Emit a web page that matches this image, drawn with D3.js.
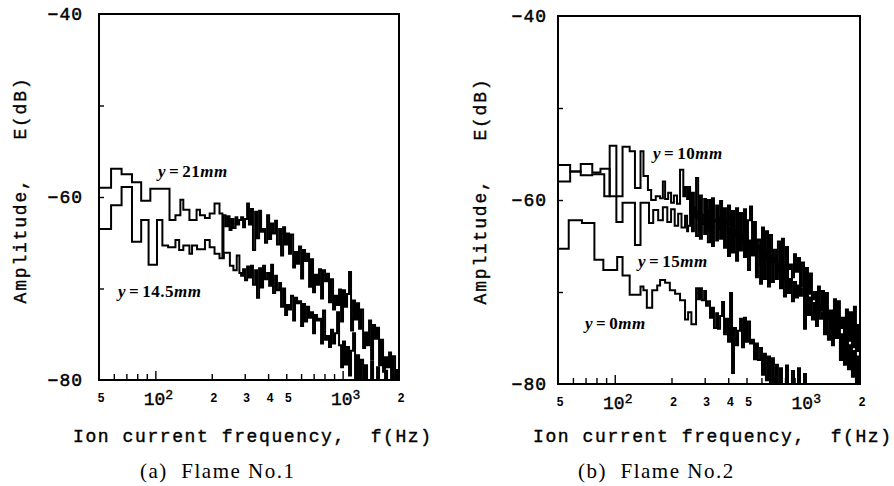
<!DOCTYPE html>
<html>
<head>
<meta charset="utf-8">
<script src="https://cdn.jsdelivr.net/npm/d3@7"></script>
<style>
  html, body { margin: 0; padding: 0; background: #fff; }
  svg { display: block; }
</style>
</head>
<body>
<svg id="chart" width="894" height="486"></svg>
<script>
// ---------------- data ----------------
// Frequency axis (Hz) and amplitude axis (dB)
const freqDomain = [50, 2000];
const ampDomain = [-80, -40];
const yLabelTicks = [-40, -60, -80];
const yMinorTicks = [-50, -60, -70];
const xTickValues = [60, 70, 80, 90, 100, 200, 300, 400, 500, 600, 700, 800, 900, 1000];
const xDigitLabels = [[50, "5"], [200, "2"], [300, "3"], [400, "4"], [500, "5"], [2000, "2"]];
const xPowerLabels = [[100, "2"], [1000, "3"]];

// Flame No.1 — shared frequency bins of the high-frequency part
const hiFreqA = [287, 294, 301, 309, 316, 324, 332, 341, 349, 358,
  367, 376, 385, 395, 405, 415, 425, 436, 446, 458,
  469, 481, 493, 505, 517, 530, 544, 557, 571, 585,
  600, 615, 630, 646, 662, 678, 695, 712, 730, 748,
  767, 786, 806, 826, 846, 867, 889, 911, 934, 957,
  981, 1005, 1030, 1056, 1082, 1109, 1137, 1165, 1194, 1224,
  1254, 1286, 1318, 1350, 1384, 1419, 1454, 1490, 1527, 1565,
  1604, 1644, 1685, 1727, 1770, 1814, 1859, 1906, 1953];

// y = 21 mm
const lowFreqA21 = [50, 58, 66, 75, 84, 94, 119, 128, 136, 141, 152, 166, 173, 184, 195, 207, 220, 228, 231, 237, 243, 249, 255, 261, 268, 274, 280];
const lowAmpA21 = [-59.0, -56.9, -57.5, -58.4, -60.4, -59.1, -62.5, -62.0, -60.3, -61.4, -62.5, -61.4, -62.0, -62.3, -61.8, -60.7, -61.8, -66.6, -62.0, -63.2, -62.1, -63.6, -62.4, -63.4, -62.2, -63.0, -62.5];
const hiAmpA21 = [-62.2, -63.3, -62.4, -60.7, -63.0, -61.3, -65.8, -61.6, -64.5, -61.5,
  -63.8, -63.5, -65.0, -62.0, -64.6, -62.9, -64.0, -62.6, -65.2, -63.5,
  -66.4, -63.3, -65.2, -64.0, -66.2, -64.1, -67.7, -66.0, -67.3, -65.4,
  -68.9, -65.8, -67.0, -66.2, -69.8, -66.8, -70.4, -68.5, -69.6, -67.9,
  -71.1, -68.0, -69.2, -68.4, -71.5, -69.0, -72.3, -70.8, -71.8, -70.1,
  -73.6, -70.2, -72.0, -70.6, -68.2, -74.6, -71.3, -73.4, -71.6, -74.4,
  -72.3, -76.5, -74.8, -76.2, -73.5, -77.8, -74.0, -75.5, -74.3, -78.4,
  -75.6, -79.1, -77.5, -78.6, -77.0, -79.9, -77.4, -80.0, -78.8];

// y = 14.5 mm
const lowFreqA145 = [50, 58, 66, 75, 84, 92, 102, 109, 117, 128, 134, 141, 152, 157, 167, 184, 195, 207, 220, 232, 250, 261, 272, 281];
const lowAmpA145 = [-63.5, -60.9, -58.9, -64.9, -62.5, -67.4, -62.5, -65.3, -65.5, -64.7, -65.8, -65.3, -66.2, -65.3, -65.7, -64.7, -65.5, -66.2, -66.7, -66.1, -67.5, -68.0, -66.4, -68.3];
const hiAmpA145 = [-68.6, -67.9, -69.1, -67.6, -68.8, -67.5, -69.6, -68.0, -71.0, -67.8,
  -69.9, -67.5, -69.0, -68.3, -69.7, -67.4, -70.5, -68.6, -70.2, -69.4,
  -72.0, -70.0, -72.9, -71.8, -72.3, -70.8, -73.5, -71.0, -71.6, -71.4,
  -74.1, -71.7, -73.6, -72.0, -73.2, -72.6, -74.9, -72.9, -73.5, -73.3,
  -76.0, -72.4, -75.6, -75.2, -76.4, -74.5, -76.0, -74.9, -72.6, -76.2,
  -78.6, -75.8, -78.3, -76.4, -79.5, -76.8, -74.9, -80.0, -77.3, -80.0,
  -77.8, -80.0, -78.4, -80.0, -80.0, -78.0, -80.0, -80.0, -78.6, -80.0,
  -80.0, -80.0, -79.0, -80.0, -80.0, -80.0, -80.0, -80.0, -80.0];

// Flame No.2 — shared frequency bins of the high-frequency part
const hiFreqB = [245, 251, 257, 263, 270, 277, 283, 290, 298, 305,
  312, 320, 328, 336, 345, 353, 362, 371, 380, 389,
  399, 409, 419, 429, 440, 451, 462, 473, 485, 497,
  509, 522, 535, 548, 561, 575, 590, 604, 619, 634,
  650, 666, 683, 699, 717, 734, 753, 771, 790, 810,
  830, 850, 871, 893, 915, 938, 961, 984, 1009, 1034,
  1059, 1085, 1112, 1140, 1168, 1197, 1226, 1257, 1288, 1320,
  1352, 1386, 1420, 1455, 1491, 1528, 1565, 1604, 1644, 1684,
  1726, 1769, 1812, 1857, 1903, 1950, 1998];

// y = 10 mm
const lowFreqB10 = [50, 58, 66, 76, 84, 94, 110, 120, 128, 137, 142, 150, 156, 165, 174, 180, 185, 192, 199, 206, 214, 222, 231, 236, 242];
const lowAmpB10 = [-56.2, -56.9, -56.1, -57.0, -56.6, -59.6, -54.2, -54.7, -58.7, -54.7, -57.4, -58.9, -60.0, -59.6, -59.8, -58.0, -59.9, -59.2, -60.3, -59.5, -60.4, -56.7, -59.6, -58.6, -59.9];
const hiAmpB10 = [-58.6, -61.5, -59.2, -61.9, -57.6, -62.0, -59.5, -62.6, -59.9, -63.3,
  -60.0, -62.8, -59.8, -62.2, -60.6, -63.2, -60.1, -64.0, -60.9, -62.6,
  -60.6, -64.5, -61.2, -64.0, -60.9, -63.6, -61.4, -64.6, -61.0, -65.4,
  -62.2, -60.7, -66.0, -62.4, -65.5, -64.3, -67.0, -63.0, -66.4, -63.4,
  -67.5, -63.8, -66.8, -65.4, -68.0, -64.5, -67.6, -64.2, -68.7, -65.1,
  -67.5, -67.0, -68.4, -65.9, -67.8, -66.3, -69.4, -66.8, -74.0, -67.4,
  -70.2, -68.0, -70.8, -70.0, -71.6, -69.4, -72.0, -69.9, -72.6, -70.1,
  -73.0, -72.0, -73.3, -70.8, -74.1, -71.0, -73.9, -72.8, -75.0, -71.9,
  -75.3, -72.2, -76.0, -71.6, -76.4, -73.6, -77.0];

// y = 15 mm
const lowFreqB15 = [50, 58, 66, 76, 88, 94, 102, 110, 128, 137, 152, 160, 170, 180, 190, 199, 208, 217, 226, 236, 242];
const lowAmpB15 = [-58.0, -56.9, -57.3, -57.2, -59.6, -54.1, -62.4, -60.3, -64.9, -60.3, -62.5, -61.1, -62.2, -60.8, -62.4, -61.0, -62.8, -61.5, -63.0, -61.7, -63.4];
const hiAmpB15 = [-62.8, -60.2, -63.4, -60.8, -63.9, -61.2, -64.2, -61.6, -63.7, -61.1,
  -64.6, -62.0, -65.0, -62.3, -64.4, -61.9, -64.2, -62.6, -65.2, -62.2,
  -66.1, -63.1, -65.7, -63.3, -66.6, -63.2, -65.5, -63.8, -66.2, -64.1,
  -67.6, -64.4, -66.0, -64.8, -68.4, -65.0, -69.1, -65.6, -68.6, -65.5,
  -69.4, -66.1, -68.9, -66.3, -68.6, -66.7, -69.6, -67.0, -70.5, -67.5,
  -70.1, -68.6, -71.0, -68.9, -70.6, -69.3, -70.4, -69.6, -72.0, -70.1,
  -72.5, -70.6, -73.0, -71.2, -73.7, -71.5, -72.9, -72.2, -74.6, -72.4,
  -75.2, -73.1, -75.8, -73.4, -75.0, -74.0, -77.4, -74.6, -77.9, -75.2,
  -78.4, -75.8, -79.2, -76.4, -80.0, -77.0, -80.0];

// y = 0 mm (high part uses bins 270 … 1034 Hz of hiFreqB)
const lowFreqB0 = [50, 57, 67, 78, 87, 103, 110, 120, 137, 142, 148, 158, 168, 174, 185, 196, 209, 222, 236, 245, 255];
const lowAmpB0 = [-65.3, -62.2, -62.5, -66.5, -67.6, -66.2, -68.2, -70.3, -69.4, -69.8, -71.7, -69.8, -69.3, -68.7, -69.0, -69.8, -70.2, -70.9, -73.0, -72.2, -73.5];
const hiAmpB0 = [-69.6, -70.8, -69.6, -70.9, -69.9, -71.5, -71.0, -72.8, -71.7, -73.9,
  -72.3, -74.0, -72.6, -71.1, -74.6, -72.9, -75.4, -70.1, -78.8, -73.9,
  -75.8, -74.2, -72.9, -76.0, -72.8, -75.4, -73.2, -75.6, -75.2, -77.3,
  -75.6, -77.4, -76.1, -79.0, -76.7, -79.6, -77.0, -80.0, -77.2, -80.0,
  -77.9, -80.0, -78.3, -80.0, -80.0, -78.0, -80.0, -80.0, -78.6, -80.0,
  -80.0, -78.3, -80.0, -80.0, -78.9, -80.0];

// ---------------- drawing ----------------
const svg = d3.select("#chart");
svg.append("rect").attr("width", 894).attr("height", 486).attr("fill", "#fff");

const MONO = "'Liberation Mono', 'DejaVu Sans Mono', monospace";
const SERIF = "'Liberation Serif', 'DejaVu Serif', serif";
const SANS = "'Liberation Sans', Arial, sans-serif";

// slightly heavier glyphs for the typewriter-style labels
function ink(sel, w) {
  return sel.attr("fill", "#000").attr("stroke", "#000").attr("stroke-width", w);
}

function series(freqs, amps) {
  return d3.zip(freqs, amps);
}

function drawPanel(cfg) {
  const g = svg.append("g");
  const x = d3.scaleLog().domain(freqDomain).range([cfg.x0, cfg.x1]);
  const y = d3.scaleLinear().domain(ampDomain).range([cfg.yBot, cfg.yTop]);

  const clipId = "clip-" + cfg.id;
  g.append("clipPath").attr("id", clipId)
    .append("rect")
    .attr("x", cfg.x0).attr("y", cfg.yTop - 1)
    .attr("width", cfg.x1 - cfg.x0).attr("height", cfg.yBot - cfg.yTop + 1);

  // spectra
  const line = d3.line()
    .x(d => x(d[0]))
    .y(d => y(d[1]))
    .curve(d3.curveStepAfter);
  g.append("g").attr("clip-path", `url(#${clipId})`)
    .selectAll("path")
    .data(cfg.curves)
    .join("path")
    .attr("d", d => line(d))
    .attr("fill", "none")
    .attr("stroke", "#000")
    .attr("stroke-width", 2)
    .attr("stroke-linejoin", "miter");

  // frequency ticks (inside, pointing up)
  const xa = g.append("g")
    .attr("transform", `translate(0,${cfg.yBot})`)
    .call(d3.axisBottom(x).tickValues(xTickValues).tickSize(-6).tickFormat(""));
  xa.select(".domain").remove();
  xa.selectAll(".tick line")
    .attr("stroke-width", 1.4)
    .attr("y2", d => (d === 100 || d === 1000) ? -9 : -6);

  // amplitude ticks (inside, pointing right)
  const ya = g.append("g")
    .attr("transform", `translate(${cfg.x0},0)`)
    .call(d3.axisLeft(y).tickValues(yMinorTicks).tickSize(-5).tickFormat(""));
  ya.select(".domain").remove();
  ya.selectAll(".tick line").attr("stroke-width", 1.4);

  // frame
  g.append("rect")
    .attr("x", cfg.x0).attr("y", cfg.yTop)
    .attr("width", cfg.x1 - cfg.x0).attr("height", cfg.yBot - cfg.yTop)
    .attr("fill", "none").attr("stroke", "#000").attr("stroke-width", 2);

  // amplitude labels
  ink(g.selectAll(".ylab")
    .data(yLabelTicks)
    .join("text")
    .attr("x", cfg.yLabelRight)
    .attr("y", d => y(d) + cfg.yLabelShift)
    .attr("text-anchor", "end")
    .attr("dominant-baseline", "central")
    .attr("font-family", MONO)
    .attr("font-size", 18)
    .attr("letter-spacing", 1)
    .text(d => "\u2212" + Math.abs(d)), 0.5);

  // frequency labels: plain digits
  g.selectAll(".xdig")
    .data(xDigitLabels)
    .join("text")
    .attr("x", d => x(d[0]) + 2)
    .attr("y", cfg.yBot + 22)
    .attr("text-anchor", "middle")
    .attr("font-family", SANS)
    .attr("font-weight", "bold")
    .attr("font-size", 12)
    .text(d => d[1]);

  // frequency labels: powers of ten
  const pw = ink(g.selectAll(".xpow")
    .data(xPowerLabels)
    .join("text")
    .attr("x", d => x(d[0]) + 3)
    .attr("y", cfg.yBot + 25)
    .attr("text-anchor", "middle")
    .attr("font-family", MONO)
    .attr("font-size", 18), 0.4);
  pw.append("tspan").text("10");
  pw.append("tspan").attr("font-size", 13).attr("dy", -6).text(d => d[1]);

  // axis titles
  ink(g.append("text")
    .attr("x", cfg.xTitleX).attr("y", 442)
    .attr("font-family", MONO).attr("font-size", 18)
    .attr("letter-spacing", 1.6)
    .style("white-space", "pre")
    .text("Ion current frequency,  f(Hz)"), 0.4);

  ink(g.append("text")
    .attr("transform", `translate(${cfg.yTitleX},${cfg.yTitleY}) rotate(-90)`)
    .attr("text-anchor", "middle")
    .attr("dominant-baseline", "central")
    .attr("font-family", MONO).attr("font-size", 18)
    .attr("letter-spacing", 1.8)
    .style("white-space", "pre")
    .text("Amplitude,   E(dB)"), 0.4);

  // caption
  g.append("text")
    .attr("x", cfg.captionX).attr("y", 478)
    .attr("font-family", SERIF).attr("font-size", 21)
    .attr("letter-spacing", 1.5)
    .style("white-space", "pre")
    .text(cfg.caption);

  // curve labels
  cfg.labels.forEach(lb => {
    const t = g.append("text")
      .attr("x", lb.x).attr("y", lb.y)
      .attr("font-family", SERIF).attr("font-size", 17)
      .attr("font-weight", "bold")
      .attr("letter-spacing", 0.5);
    t.append("tspan").attr("font-style", "italic").text("y");
    t.append("tspan").attr("dx", 3).text("=");
    t.append("tspan").attr("dx", 3).text(lb.value);
    t.append("tspan").attr("font-style", "italic").text("mm");
  });
}

drawPanel({
  id: "a", x0: 99, x1: 399, yTop: 14, yBot: 380,
  yLabelRight: 83, yLabelShift: 1,
  xTitleX: 73, yTitleX: 21, yTitleY: 190, captionX: 140,
  caption: "(a)  Flame No.1",
  curves: [
    series(lowFreqA21.concat(hiFreqA), lowAmpA21.concat(hiAmpA21)),
    series(lowFreqA145.concat(hiFreqA), lowAmpA145.concat(hiAmpA145))
  ],
  labels: [
    { x: 158, y: 177, value: "21" },
    { x: 118, y: 297, value: "14.5" }
  ]
});

drawPanel({
  id: "b", x0: 558, x1: 860, yTop: 16, yBot: 384,
  yLabelRight: 547, yLabelShift: 1,
  xTitleX: 533, yTitleX: 481, yTitleY: 191, captionX: 578,
  caption: "(b)  Flame No.2",
  curves: [
    series(lowFreqB10.concat(hiFreqB), lowAmpB10.concat(hiAmpB10)),
    series(lowFreqB15.concat(hiFreqB), lowAmpB15.concat(hiAmpB15)),
    series(lowFreqB0.concat(hiFreqB.slice(4, 60)), lowAmpB0.concat(hiAmpB0))
  ],
  labels: [
    { x: 653, y: 159, value: "10" },
    { x: 638, y: 267, value: "15" },
    { x: 585, y: 329, value: "0" }
  ]
});
</script>
</body>
</html>
